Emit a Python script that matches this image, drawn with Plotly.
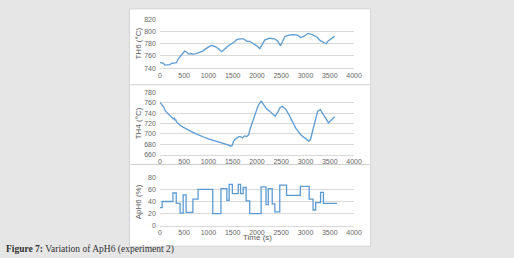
import plotly.graph_objects as go

W, H = 514, 258

# ---- data ----
t_th6 = [0, 40, 74, 100, 141, 180, 209, 242, 280, 310, 343, 377, 400, 424, 450, 478, 511, 540, 559, 599,
         640, 680, 747, 780, 814, 850, 882, 949, 1016, 1050, 1084, 1120, 1151, 1218, 1272, 1319, 1386, 1454, 1521, 1588,
         1656, 1723, 1790, 1857, 1925, 1992, 2059, 2093, 2160, 2261, 2362, 2430, 2483, 2530, 2578, 2665, 2766, 2833, 2901, 2968,
         3049, 3136, 3237, 3304, 3372, 3426, 3473, 3540, 3600]
th6 = [749.5, 749, 748, 745, 745, 746, 746, 748, 748, 748, 749, 755, 757, 759, 762, 765, 768, 767, 766, 763,
       764, 763, 764, 765, 765, 766, 768, 772, 776, 777, 777, 776, 775, 771, 767, 770, 775, 779, 782, 787,
       788, 788, 784, 784, 780, 777, 772, 776, 786, 789, 788, 784, 777, 784, 792, 794, 795, 794, 790, 792,
       797, 795, 791, 785, 782, 780, 785, 789, 792]

t_th4 = [0, 40, 80, 108, 141, 175, 209, 240, 276, 300, 310, 325, 343, 380, 411, 478, 550, 612, 680, 747,
         815, 882, 950, 1016, 1085, 1151, 1220, 1285, 1340, 1386, 1420, 1454, 1487, 1521, 1555, 1622, 1656, 1703, 1743, 1790,
         1830, 1857, 1890, 1925, 1972, 2026, 2080, 2100, 2127, 2194, 2261, 2329, 2376, 2430, 2483, 2530, 2598, 2665, 2700, 2732,
         2760, 2800, 2901, 3002, 3069, 3103, 3157, 3204, 3251, 3304, 3358, 3405, 3440, 3473, 3506, 3540, 3574, 3600]
th4 = [761, 757, 752, 745, 742, 740, 736, 733, 729, 731, 726, 728, 723, 720, 717, 713, 709, 706, 703, 700,
       697, 695, 692, 690, 688, 686, 684, 683, 681, 679, 678, 676, 677, 686, 690, 694, 695, 692, 696, 695,
       698, 709, 718, 727, 742, 755, 763, 762, 758, 749, 744, 739, 734, 742, 752, 753, 747, 736, 730, 723,
       718, 711, 698, 690, 686, 689, 708, 727, 744, 747, 740, 733, 727, 721, 724, 727, 732, 733]

t_aph6 = [0, 47, 269, 337, 417, 480, 540, 680, 787, 1090, 1258, 1380, 1427, 1494, 1615, 1662, 1716, 1777, 1851, 2086,
          2187, 2234, 2315, 2369, 2470, 2610, 2894, 3076, 3156, 3210, 3311, 3370, 3650]
aph6 = [30, 40, 54, 37, 21, 51, 22, 44, 60, 20, 61, 42, 68, 53, 68, 53, 63, 41, 20, 64,
        35, 61, 36, 23, 67, 50, 65, 44, 26, 38, 55, 37, 37]

x_ticks = [0, 500, 1000, 1500, 2000, 2500, 3000, 3500, 4000]
panels = [
    dict(x=t_th6, y=th6, rng=[740, 820], dt=20, title="TH6 (°C)", shape="linear"),
    dict(x=t_th4, y=th4, rng=[660, 780], dt=20, title="TH4 (°C)", shape="linear"),
    dict(x=t_aph6, y=aph6, rng=[0, 80], dt=20, title="ApH6 (%)", shape="hv"),
]
# pixel positions (top, bottom) of each plot area
pix_y = [(15.7, 66), (91, 154.7), (178, 228)]
x0p, x1p = 161, 359

LINE = "#5b9bd5"
GRID = "#d9d9d9"
TICKC = "#666666"
FONT = "Liberation Sans"

fig = go.Figure()
layout = dict(
    width=W, height=H, margin=dict(l=0, r=0, t=0, b=0),
    paper_bgcolor="#e6e6e6", plot_bgcolor="white", showlegend=False,
    font=dict(family=FONT, size=7, color=TICKC),
)
annotations = []
for i, p in enumerate(panels):
    n = "" if i == 0 else str(i + 1)
    fig.add_trace(go.Scatter(x=p["x"], y=p["y"], mode="lines", line=dict(color=LINE, width=1.3, shape=p["shape"]),
                             xaxis="x" + n, yaxis="y" + n, hoverinfo="skip"))
    top, bot = pix_y[i]
    layout["xaxis" + n] = dict(domain=[x0p / W, x1p / W], range=[0, 4000], tickvals=x_ticks,
                               showgrid=False, zeroline=False, showline=True, linecolor=GRID, linewidth=1,
                               ticks="", tickfont=dict(size=7, color=TICKC), anchor="y" + n)
    layout["yaxis" + n] = dict(domain=[1 - bot / H, 1 - top / H], range=p["rng"], dtick=p["dt"],
                               showgrid=True, gridcolor=GRID, gridwidth=1, zeroline=False, showline=False,
                               ticks="", tickfont=dict(size=7, color=TICKC), anchor="x" + n, ticklabelstandoff=3)
    annotations.append(dict(text=p["title"], x=139.5 / W, y=1 - (top + bot) / 2 / H, xref="paper", yref="paper",
                            showarrow=False, textangle=-90, font=dict(size=8, color="#595959", family=FONT),
                            xanchor="center", yanchor="middle"))

annotations.append(dict(text="Time (s)", x=261 / W, y=1 - 240.5 / H, xref="paper", yref="paper", showarrow=False,
                        font=dict(size=8, color="#595959", family=FONT), xanchor="center", yanchor="middle"))
annotations.append(dict(text="<b>Figure 7:</b> Variation of ApH6 (experiment 2)", x=2 / W, y=1 - 252 / H,
                        xref="paper", yref="paper", showarrow=False, xanchor="left", yanchor="middle",
                        font=dict(size=9.5, color="#333333", family="Liberation Serif")))
layout["annotations"] = annotations

shapes = [
    dict(type="rect", xref="paper", yref="paper", x0=130 / W, x1=376 / W, y0=1 - 249 / H, y1=1 - 5 / H,
         fillcolor="white", line=dict(color="#d4d4d4", width=1), layer="below"),
    dict(type="line", xref="paper", yref="paper", x0=131 / W, x1=375 / W, y0=1 - 83 / H, y1=1 - 83 / H,
         line=dict(color="#cfcfcf", width=1), layer="below"),
    dict(type="line", xref="paper", yref="paper", x0=131 / W, x1=375 / W, y0=1 - 165 / H, y1=1 - 165 / H,
         line=dict(color="#cfcfcf", width=1), layer="below"),
]
layout["shapes"] = shapes
fig.update_layout(**layout)
fig.write_html("out.html")
